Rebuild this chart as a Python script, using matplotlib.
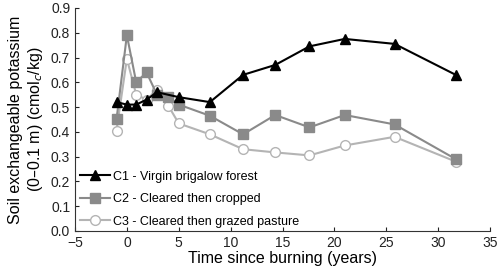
import matplotlib
matplotlib.use("Agg")
import matplotlib.pyplot as plt

plt.rcParams["font.family"] = ["Liberation Sans", "DejaVu Sans"]

# years since burning
x_c1 = [-1, 0, 0.9, 1.9, 2.9, 5, 8, 11.2, 14.3, 17.6, 21, 25.8, 31.7]
x_c2 = [-1, 0, 0.9, 1.9, 2.9, 4, 5, 8, 11.2, 14.3, 17.6, 21, 25.8, 31.7]
x_c3 = [-1, 0, 0.9, 1.9, 2.9, 4, 5, 8, 11.2, 14.3, 17.6, 21, 25.8, 31.7]

# exchangeable K (cmolc/kg)
k_c1 = [0.52, 0.51, 0.51, 0.53, 0.56, 0.54, 0.52, 0.63, 0.67, 0.745, 0.775, 0.755, 0.63]
k_c2 = [0.45, 0.79, 0.60, 0.64, 0.55, 0.54, 0.51, 0.465, 0.39, 0.468, 0.418, 0.468, 0.43, 0.29]
k_c3 = [0.405, 0.695, 0.55, 0.53, 0.57, 0.505, 0.434, 0.39, 0.33, 0.317, 0.305, 0.345, 0.38, 0.28]

labels = ["C1 - Virgin brigalow forest",
          "C2 - Cleared then cropped",
          "C3 - Cleared then grazed pasture"]

xticks = [-5, 0, 5, 10, 15, 20, 25, 30, 35]
yticks = [0.0, 0.1, 0.2, 0.3, 0.4, 0.5, 0.6, 0.7, 0.8, 0.9]

fig = plt.figure(figsize=(5, 2.74), dpi=100)
ax = fig.add_axes([0.15, 0.157, 0.83, 0.814])

ax.plot(x_c1, k_c1, color="black", lw=1.5, marker="^", ms=7,
        mfc="black", mec="black", label=labels[0], zorder=3)
ax.plot(x_c2, k_c2, color="#8a8a8a", lw=1.5, marker="s", ms=7,
        mfc="#8a8a8a", mec="#8a8a8a", label=labels[1], zorder=2)
ax.plot(x_c3, k_c3, color="#b4b4b4", lw=1.5, marker="o", ms=7,
        mfc="white", mec="#b4b4b4", label=labels[2], zorder=1)

ax.set_xlim(-5, 35)
ax.set_ylim(0, 0.9)
ax.set_xticks(xticks)
ax.set_xticklabels(["\u22125"] + [str(t) for t in xticks[1:]])
ax.set_yticks(yticks)
ax.set_yticklabels([f"{t:.1f}" for t in yticks])
ax.tick_params(direction="in", length=3, labelsize=10, colors="#222222")

for side in ["top", "right"]:
    ax.spines[side].set_visible(False)
for side in ["left", "bottom"]:
    ax.spines[side].set_color("#333333")

ax.set_xlabel("Time since burning (years)", fontsize=11.5, labelpad=1)
ax.set_ylabel("Soil exchangeable potassium\n(0\u20130.1 m) (cmol$_c$/kg)",
              fontsize=11.5, labelpad=4)

ax.legend(loc="lower left", bbox_to_anchor=(-0.01, -0.025), frameon=False,
          fontsize=9, handlelength=2.4, handletextpad=0.3, labelspacing=0.85,
          borderaxespad=0.3)

fig.savefig("out.png", dpi=100)
